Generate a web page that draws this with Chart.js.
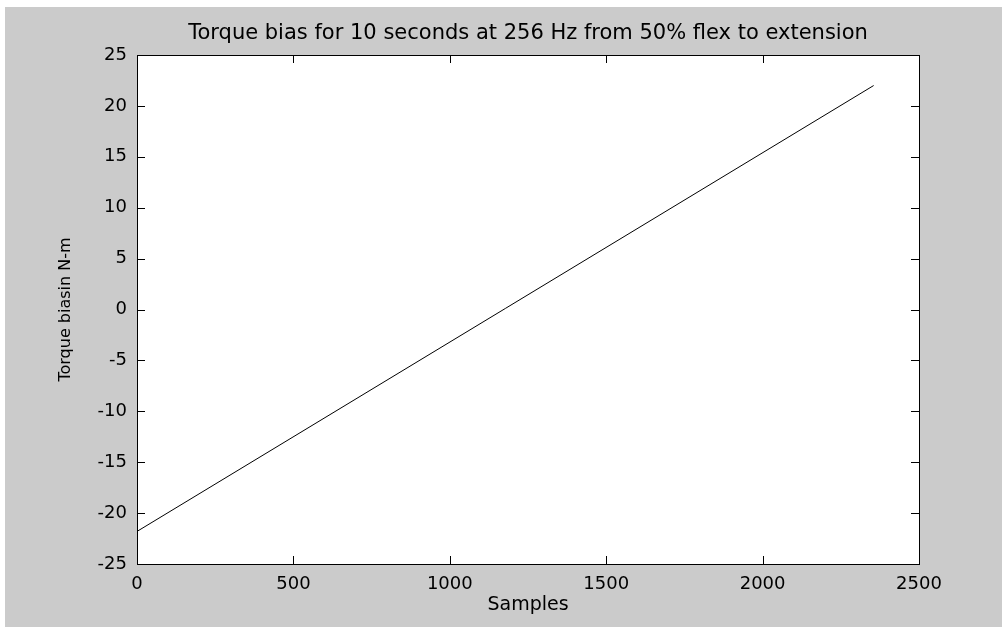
<!DOCTYPE html>
<html lang="en">
<head>
    <meta charset="UTF-8">
    <title>Torque bias</title>
    <script src="https://cdn.jsdelivr.net/npm/chart.js@4.4.1/dist/chart.umd.min.js"></script>
    <style>
        html, body { margin: 0; padding: 0; background: #ffffff; }
        #wrap { width: 1002px; height: 627px; }
    </style>
</head>
<body>

<div id="wrap"><canvas id="torqueChart" width="1002" height="627"></canvas></div>

<script>
// values
const samples = [0, 2355];
const torqueBias = [-21.8, 22.0];
const xTicks = [0, 500, 1000, 1500, 2000, 2500];
const yTicks = [-25, -20, -15, -10, -5, 0, 5, 10, 15, 20, 25];

const titleText = 'Torque bias for 10 seconds at 256 Hz from 50% flex to extension';
const xLabel = 'Samples';
const yLabel = 'Torque biasin N-m';

const FONT = 'DejaVu Sans';
const TICK_LEN = 8;

// gray figure background, white axes box, inward ticks on all four sides
const matlabFrame = {
    id: 'matlabFrame',
    beforeDraw(chart) {
        const ctx = chart.ctx;
        const a = chart.chartArea;
        ctx.save();
        ctx.fillStyle = '#ffffff';
        ctx.fillRect(0, 0, chart.width, chart.height);
        ctx.fillStyle = '#cbcbcb';
        ctx.fillRect(5, 7, chart.width - 5, chart.height - 7);
        ctx.fillStyle = '#ffffff';
        ctx.fillRect(a.left, a.top, a.right - a.left, a.bottom - a.top);
        ctx.restore();
    },
    afterDraw(chart) {
        const ctx = chart.ctx;
        const a = chart.chartArea;
        const xs = chart.scales.x;
        const ys = chart.scales.y;
        ctx.save();
        ctx.strokeStyle = '#000000';
        ctx.lineWidth = 1;
        ctx.beginPath();
        xTicks.forEach(v => {
            const px = Math.round(xs.getPixelForValue(v)) + 0.5;
            ctx.moveTo(px, a.bottom);
            ctx.lineTo(px, a.bottom - TICK_LEN);
            ctx.moveTo(px, a.top);
            ctx.lineTo(px, a.top + TICK_LEN);
        });
        yTicks.forEach(v => {
            const py = Math.round(ys.getPixelForValue(v)) + 0.5;
            ctx.moveTo(a.left, py);
            ctx.lineTo(a.left + TICK_LEN, py);
            ctx.moveTo(a.right, py);
            ctx.lineTo(a.right - TICK_LEN, py);
        });
        ctx.stroke();
        ctx.strokeRect(Math.round(a.left) + 0.5, Math.round(a.top) + 0.5,
            Math.round(a.right - a.left), Math.round(a.bottom - a.top));
        ctx.restore();
    }
};

const points = samples.map((s, i) => ({ x: s, y: torqueBias[i] }));

new Chart(document.getElementById('torqueChart'), {
    type: 'line',
    data: {
        datasets: [{
            data: points,
            borderColor: '#000000',
            borderWidth: 1,
            pointRadius: 0,
            tension: 0,
            fill: false
        }]
    },
    options: {
        responsive: false,
        animation: false,
        layout: { padding: { left: 5, top: 7, right: 83, bottom: 0 } },
        plugins: {
            legend: { display: false },
            tooltip: { enabled: false },
            title: {
                display: true,
                fullSize: false,   // centre over the axes, not the whole figure
                text: titleText,
                color: '#000000',
                font: { family: FONT, size: 21, weight: 'normal' },
                padding: { top: 14.4, bottom: 8.4 }
            }
        },
        scales: {
            x: {
                type: 'linear',
                min: 0,
                max: 2500,
                grid: { display: false, drawTicks: false },
                border: { display: false },
                afterBuildTicks(scale) {
                    scale.ticks = xTicks.map(v => ({ value: v }));
                },
                afterFit(scale) { scale.height = 63; },
                ticks: {
                    color: '#000000',
                    padding: 10,
                    maxRotation: 0,
                    font: { family: FONT, size: 18 },
                    callback: v => String(v)
                },
                title: {
                    display: true,
                    text: xLabel,
                    color: '#000000',
                    font: { family: FONT, size: 19 },
                    padding: { top: 0, bottom: 11 }
                }
            },
            y: {
                type: 'linear',
                min: -25,
                max: 25,
                grid: { display: false, drawTicks: false },
                border: { display: false },
                afterBuildTicks(scale) {
                    scale.ticks = yTicks.map(v => ({ value: v }));
                },
                afterFit(scale) { scale.width = 132; },
                ticks: {
                    color: '#000000',
                    padding: 10,
                    font: { family: FONT, size: 18 },
                    callback: v => String(v)
                },
                title: {
                    display: true,
                    text: yLabel,
                    color: '#000000',
                    font: { family: FONT, size: 16 },
                    padding: { top: 51, bottom: 0 }
                }
            }
        }
    },
    plugins: [matlabFrame]
});
</script>

</body>
</html>
